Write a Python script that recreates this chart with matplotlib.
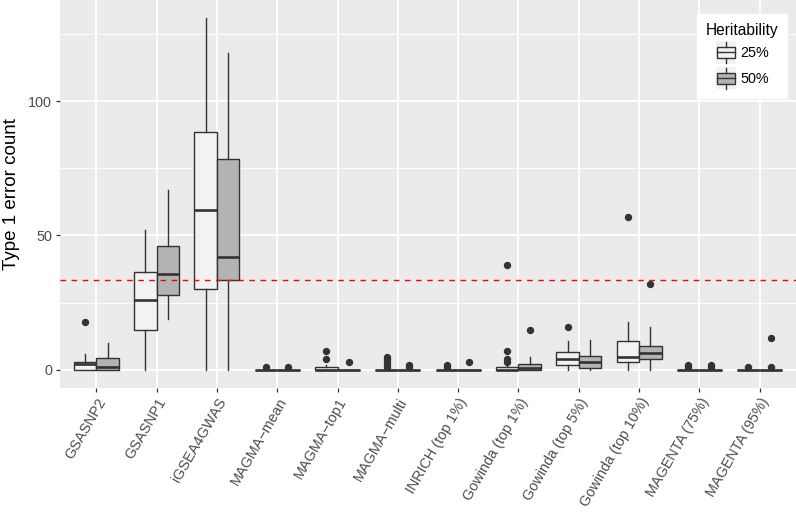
import matplotlib
matplotlib.use("Agg")
import matplotlib.pyplot as plt
from matplotlib.legend_handler import HandlerBase
from matplotlib.patches import Rectangle, Patch
from matplotlib.lines import Line2D

plt.rcParams['font.family'] = ['Liberation Sans', 'DejaVu Sans']

methods = ["GSASNP2", "GSASNP1", "iGSEA4GWAS", "MAGMA\u2212mean", "MAGMA\u2212top1",
           "MAGMA\u2212multi", "INRICH (top 1%)", "Gowinda (top 1%)", "Gowinda (top 5%)",
           "Gowinda (top 10%)", "MAGENTA (75%)", "MAGENTA (95%)"]
groups = ["25%", "50%"]

# Heritability 25%
q1_25 = [0, 15, 30.2, 0, 0, 0, 0, 0, 2, 3, 0, 0]
med_25 = [2.1, 26, 59.5, 0, 0, 0, 0, 0, 4.1, 5, 0, 0]
q3_25 = [3.1, 36.4, 88.6, 0, 1, 0, 0, 1, 6.8, 10.6, 0, 0]
lo_25 = [0, 0, 0, 0, 0, 0, 0, 0, 0, 0, 0, 0]
hi_25 = [5.8, 52, 131, 0, 2, 0, 0, 2, 10.9, 18, 0, 0]
fliers_25 = [[18], [], [], [1], [4, 7], [1, 2, 3, 4, 5], [1, 2], [3, 4, 7, 39],
             [16], [57], [1, 2], [1]]

# Heritability 50%
q1_50 = [0, 27.7, 33.5, 0, 0, 0, 0, 0, 0.9, 4, 0, 0]
med_50 = [1.2, 35.5, 42, 0, 0, 0, 0, 0.7, 3, 6.4, 0, 0]
q3_50 = [4.6, 46.2, 78.3, 0, 0, 0, 0, 2.1, 5.3, 9, 0, 0]
lo_50 = [0, 19, 0, 0, 0, 0, 0, 0, 0, 0, 0, 0]
hi_50 = [9.9, 66.8, 118, 0, 0, 0, 0, 5, 11, 15.8, 0, 0]
fliers_50 = [[], [], [], [1], [3], [1, 2], [3], [15], [], [32], [1, 2], [1, 12]]

threshold = 33.6

FILL = {"25%": "#F2F2F2", "50%": "#B3B3B3"}
EDGE = "#333333"

fig = plt.figure(figsize=(7.96, 5.14), dpi=100)
ax = fig.add_axes([60 / 796, 1 - 387.6 / 514, 736 / 796, 387.6 / 514])
ax.set_facecolor("#EBEBEB")
for s in ax.spines.values():
    s.set_visible(False)

series = {
    "25%": (q1_25, med_25, q3_25, lo_25, hi_25, fliers_25),
    "50%": (q1_50, med_50, q3_50, lo_50, hi_50, fliers_50),
}
offsets = {"25%": -0.1875, "50%": 0.1875}

for g in groups:
    q1, med, q3, lo, hi, fl = series[g]
    stats = []
    for i in range(len(methods)):
        stats.append(dict(med=med[i], q1=q1[i], q3=q3[i], whislo=lo[i], whishi=hi[i],
                          fliers=fl[i]))
    pos = [i + 1 + offsets[g] for i in range(len(methods))]
    ax.bxp(stats, positions=pos, widths=0.375, patch_artist=True, showcaps=False,
           boxprops=dict(facecolor=FILL[g], edgecolor=EDGE, linewidth=1.0),
           medianprops=dict(color=EDGE, linewidth=1.9, solid_capstyle='butt'),
           whiskerprops=dict(color=EDGE, linewidth=1.0),
           flierprops=dict(marker='o', markerfacecolor=EDGE, markeredgecolor=EDGE,
                           markersize=4.3, linestyle='none'),
           zorder=3)

ax.axhline(threshold, color='#FF0000', linestyle=(0, (4, 4)), linewidth=1.0, zorder=4)

ax.set_xlim(0.4, 12.6)
ax.set_ylim(-6.55, 137.55)
ax.set_yticks([0, 50, 100])
ax.set_yticks([25, 75, 125], minor=True)
ax.set_xticks(range(1, len(methods) + 1))
ax.set_xticklabels(methods, rotation=60, ha='right', va='top', rotation_mode='anchor')
ax.grid(which='major', color='white', linewidth=1.3, zorder=0)
ax.grid(which='minor', axis='y', color='white', linewidth=0.65, zorder=0)
ax.set_axisbelow(True)
ax.tick_params(axis='both', which='major', length=3.2, width=0.9, color=EDGE,
               labelcolor='#4D4D4D', labelsize=10.4, pad=2.5)
ax.tick_params(axis='y', which='minor', length=0)
ax.set_ylabel("Type 1 error count", fontsize=13.5, color='black', labelpad=6)


class BoxHandler(HandlerBase):
    def create_artists(self, legend, orig_handle, xd, yd, w, h, fs, trans):
        x0, y0 = -xd, -yd
        bg = Rectangle((x0, y0), w, h, facecolor='#F2F2F2', edgecolor='none',
                       transform=trans)
        bx = Rectangle((x0 + 0.06 * w, y0 + 0.25 * h), 0.88 * w, 0.5 * h,
                       facecolor=orig_handle.get_facecolor(), edgecolor=EDGE,
                       linewidth=1.0, transform=trans)
        md = Line2D([x0 + 0.06 * w, x0 + 0.94 * w], [y0 + 0.5 * h] * 2, color=EDGE,
                    linewidth=1.0, transform=trans)
        wt = Line2D([x0 + 0.5 * w] * 2, [y0 + 0.75 * h, y0 + 0.98 * h], color=EDGE,
                    linewidth=1.0, transform=trans)
        wb = Line2D([x0 + 0.5 * w] * 2, [y0 + 0.02 * h, y0 + 0.25 * h], color=EDGE,
                    linewidth=1.0, transform=trans)
        return [bg, bx, md, wt, wb]


handles = [Patch(facecolor=FILL[g], edgecolor=EDGE) for g in groups]
leg = ax.legend(handles, groups, title="Heritability", loc='upper right',
                bbox_to_anchor=(0.988, 0.964), borderaxespad=0, frameon=True,
                fancybox=False, framealpha=1, edgecolor='white', facecolor='white',
                fontsize=10.4, title_fontsize=11.2, handlelength=1.45, handleheight=2.0,
                labelspacing=0.25, handletextpad=0.25, borderpad=0.6, alignment='center',
                handler_map={Patch: BoxHandler()})
leg.set_zorder(10)

fig.savefig("out.png", dpi=100)
